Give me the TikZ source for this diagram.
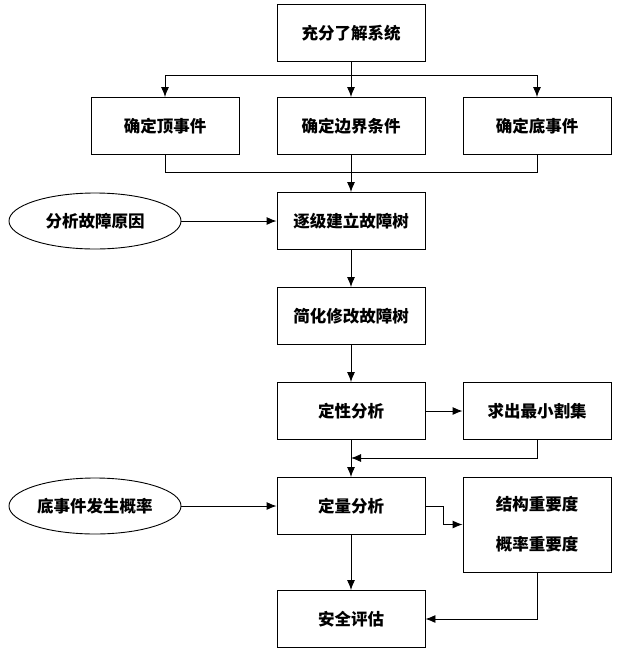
\documentclass[tikz,border=0pt]{standalone}
\usepackage{fontspec}
\newfontfamily\cjk{Noto Sans CJK SC}
\usetikzlibrary{shapes.geometric, arrows.meta}
\begin{document}
\begin{tikzpicture}[x=1pt, y=-1pt, >={Latex[length=10pt,width=8pt]}, line width=0.9pt,
  box/.style={draw, minimum width=148pt, minimum height=57pt, inner sep=2pt,
    font=\cjk\bfseries\fontsize{16.5}{19}\selectfont},
  oval/.style={draw, ellipse, minimum width=172pt, minimum height=56pt, inner sep=1pt,
    font=\cjk\bfseries\fontsize{16.5}{19}\selectfont}]
\useasboundingbox (0,0) rectangle (618,657);
% Boxes
\node[box] (sys) at (351,33) {充分了解系统};
\node[box] (top) at (165,126) {确定顶事件};
\node[box] (bnd) at (351,126) {确定边界条件};
\node[box] (bot) at (537,126) {确定底事件};
\node[box] (tree) at (351,221) {逐级建立故障树};
\node[box] (simp) at (351,316) {简化修改故障树};
\node[box] (qual) at (351,411) {定性分析};
\node[box] (cut) at (537,411) {求出最小割集};
\node[box] (quan) at (351,506) {定量分析};
\node[box, minimum height=95pt, align=center] (imp) at (537,524.5) {结构重要度\\[21pt]概率重要度};
\node[box] (safe) at (351,619) {安全评估};
% Inputs
\node[oval] (cause) at (95,221) {分析故障原因};
\node[oval] (prob) at (95,506) {底事件发生概率};
% Branch points
\coordinate (split) at (351,75);
\coordinate (join) at (351,172);
\coordinate (back) at (351,458);
% Connectors
\draw (sys) -- (split);
\draw[->] (split) -| (top.north);
\draw[->] (split) -| (bot.north);
\draw[->] (split) -- (bnd.north);
\draw (top.south) |- (join);
\draw (bot.south) |- (join);
\draw[->] (bnd.south) -- (tree.north);
\draw[->] (cause) -- (tree);
\draw[->] (tree) -- (simp);
\draw[->] (simp) -- (qual);
\draw[->] (qual) -- (cut);
\draw[->] (cut.south) |- (back);
\draw[->] (qual) -- (quan);
\draw[->] (prob) -- (quan);
\draw[->] (quan.east) -- (443,506) |- (imp.west);
\draw[->] (imp.south) |- (safe.east);
\draw[->] (quan) -- (safe);
\end{tikzpicture}
\end{document}
